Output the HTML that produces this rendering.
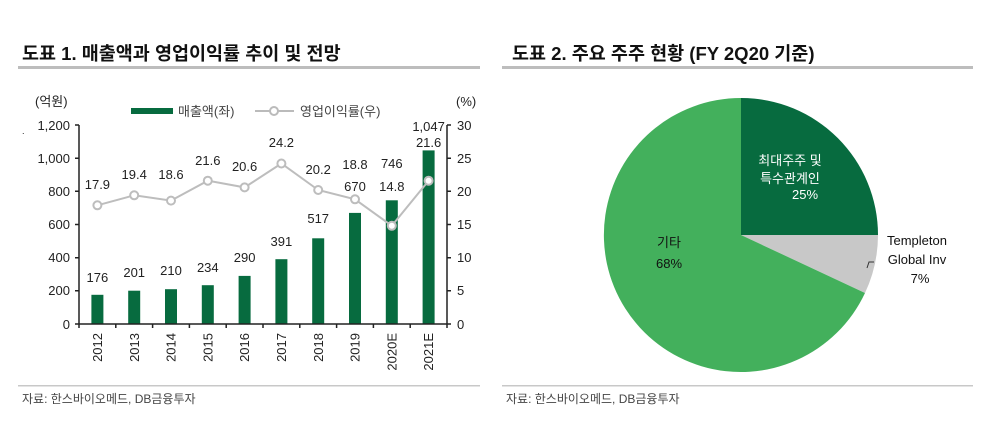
<!DOCTYPE html>
<html><head><meta charset="utf-8"><style>
body{margin:0;background:#fff;width:1000px;height:423px;overflow:hidden}
svg text{font-family:"Liberation Sans","Noto Sans CJK KR",sans-serif}
</style></head><body>
<svg width="1000" height="423" viewBox="0 0 1000 423" xmlns="http://www.w3.org/2000/svg">
<g font-size="18.5" font-weight="bold" fill="#111">
<text x="22" y="60">도표 1. 매출액과 영업이익률 추이 및 전망</text>
<text x="512" y="60">도표 2. 주요 주주 현황 (FY 2Q20 기준)</text>
</g>
<rect x="18" y="66" width="462" height="3" fill="#bdbdbd"/>
<rect x="502" y="66" width="471" height="3" fill="#bdbdbd"/>
<rect x="18" y="385" width="462" height="1.5" fill="#c8c8c8"/>
<rect x="502" y="385" width="471" height="1.5" fill="#c8c8c8"/>
<g font-size="12" fill="#444">
<text x="22" y="403">자료:  한스바이오메드, DB금융투자</text>
<text x="506" y="403">자료:  한스바이오메드, DB금융투자</text>
</g>
<g font-size="13" fill="#222">
<text x="35" y="106">(억원)</text>
<text x="456" y="106">(%)</text>
<rect x="131" y="108" width="42" height="6" fill="#076b3f"/>
<text x="178" y="116" fill="#444">매출액(좌)</text>
<line x1="255" y1="111" x2="294" y2="111" stroke="#bbb" stroke-width="2"/>
<circle cx="274" cy="111" r="4" fill="#fff" stroke="#bbb" stroke-width="2"/>
<text x="300" y="116" fill="#444">영업이익률(우)</text>
<text x="22" y="134" font-size="9">.</text>
</g>
<g fill="#076b3f">
<rect x="91.4" y="294.8" width="12" height="29.2"/>
<rect x="128.2" y="290.7" width="12" height="33.3"/>
<rect x="165" y="289.2" width="12" height="34.8"/>
<rect x="201.8" y="285.2" width="12" height="38.8"/>
<rect x="238.6" y="275.9" width="12" height="48.1"/>
<rect x="275.4" y="259.2" width="12" height="64.8"/>
<rect x="312.2" y="238.3" width="12" height="85.7"/>
<rect x="349" y="212.9" width="12" height="111.1"/>
<rect x="385.8" y="200.3" width="12" height="123.7"/>
<rect x="422.6" y="150.4" width="12" height="173.6"/>
</g>
<g stroke="#222" stroke-width="1.5" fill="none">
<line x1="79" y1="125" x2="79" y2="324"/>
<line x1="447" y1="125" x2="447" y2="324"/>
<line x1="79" y1="324" x2="447" y2="324"/>
<path d="M79 125h-4M79 158.2h-4M79 191.3h-4M79 224.5h-4M79 257.7h-4M79 290.8h-4M79 324h-4M447 125h4M447 158.2h4M447 191.3h4M447 224.5h4M447 257.7h4M447 290.8h4M447 324h4"/>
<path d="M79 324v4M115.8 324v4M152.6 324v4M189.4 324v4M226.2 324v4M263 324v4M299.8 324v4M336.6 324v4M373.4 324v4M410.2 324v4M447 324v4"/>
</g>
<polyline points="97.4,205.3 134.2,195.3 171,200.6 207.8,180.7 244.6,187.4 281.4,163.5 318.2,190 355,199.3 391.8,225.8 428.6,180.7" fill="none" stroke="#bdbdbd" stroke-width="2"/>
<g fill="#fff" stroke="#bdbdbd" stroke-width="2">
<circle cx="97.4" cy="205.3" r="4"/><circle cx="134.2" cy="195.3" r="4"/><circle cx="171" cy="200.6" r="4"/><circle cx="207.8" cy="180.7" r="4"/><circle cx="244.6" cy="187.4" r="4"/><circle cx="281.4" cy="163.5" r="4"/><circle cx="318.2" cy="190" r="4"/><circle cx="355" cy="199.3" r="4"/><circle cx="391.8" cy="225.8" r="4"/><circle cx="428.6" cy="180.7" r="4"/>
</g>
<g font-size="13" fill="#222" text-anchor="end">
<text x="70" y="130">1,200</text><text x="70" y="163">1,000</text><text x="70" y="196">800</text><text x="70" y="229">600</text><text x="70" y="262">400</text><text x="70" y="295">200</text><text x="70" y="329">0</text>
</g>
<g font-size="13" fill="#222">
<text x="457" y="130">30</text><text x="457" y="163">25</text><text x="457" y="196">20</text><text x="457" y="229">15</text><text x="457" y="262">10</text><text x="457" y="295">5</text><text x="457" y="329">0</text>
</g>
<g font-size="13" fill="#222" text-anchor="middle">
<text x="97.4" y="282">176</text><text x="134.2" y="277">201</text><text x="171" y="275">210</text><text x="207.8" y="272">234</text><text x="244.6" y="262">290</text><text x="281.4" y="246">391</text><text x="318.2" y="223">517</text><text x="355" y="191">670</text><text x="391.8" y="168">746</text><text x="428.6" y="131">1,047</text>
<text x="97.4" y="189">17.9</text><text x="134.2" y="179">19.4</text><text x="171" y="179">18.6</text><text x="207.8" y="165">21.6</text><text x="244.6" y="171">20.6</text><text x="281.4" y="147">24.2</text><text x="318.2" y="174">20.2</text><text x="355" y="169">18.8</text><text x="391.8" y="191">14.8</text><text x="428.6" y="147">21.6</text>
</g>
<g font-size="13" fill="#222" text-anchor="end">
<text transform="translate(102,333) rotate(-90)">2012</text>
<text transform="translate(138.8,333) rotate(-90)">2013</text>
<text transform="translate(175.6,333) rotate(-90)">2014</text>
<text transform="translate(212.4,333) rotate(-90)">2015</text>
<text transform="translate(249.2,333) rotate(-90)">2016</text>
<text transform="translate(286,333) rotate(-90)">2017</text>
<text transform="translate(322.8,333) rotate(-90)">2018</text>
<text transform="translate(359.6,333) rotate(-90)">2019</text>
<text transform="translate(396.4,333) rotate(-90)">2020E</text>
<text transform="translate(433.2,333) rotate(-90)">2021E</text>
</g>
<path d="M741 235L741 98A137 137 0 0 1 878 235Z" fill="#076b3f"/>
<path d="M741 235L878 235A137 137 0 0 1 865 293Z" fill="#c8c8c8"/>
<path d="M741 235L865 293A137 137 0 1 1 741 98Z" fill="#43b05c"/>
<path d="M874 262h-5l-2 6" stroke="#333" fill="none"/>
<g font-size="13" text-anchor="middle">
<g fill="#fff"><text x="790" y="165">최대주주 및</text><text x="790" y="183">특수관계인</text><text x="805" y="199">25%</text></g>
<g fill="#111"><text x="669" y="247">기타</text><text x="669" y="268">68%</text>
<text x="917" y="245">Templeton</text><text x="917" y="264">Global Inv</text><text x="920" y="283">7%</text></g>
</g>
</svg>
</body></html>
